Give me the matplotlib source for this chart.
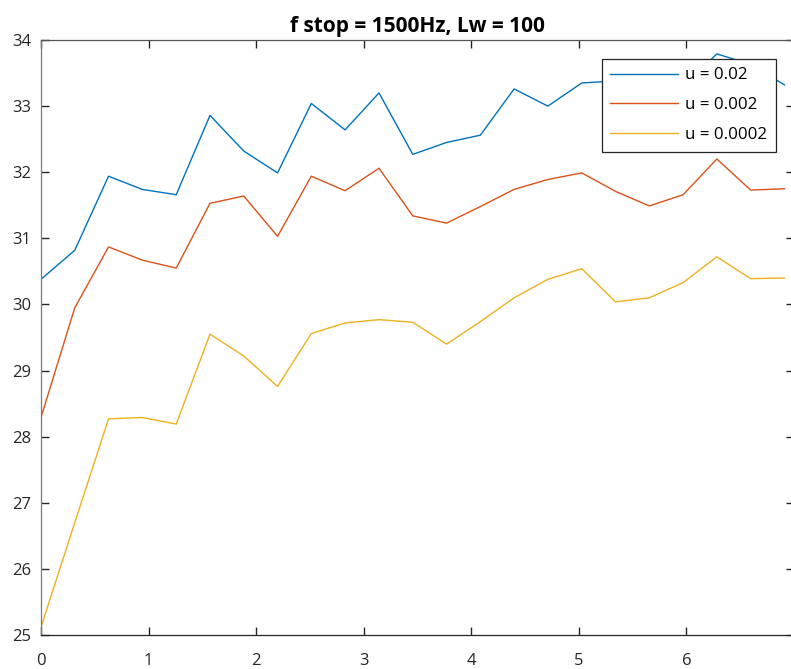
import matplotlib.pyplot as plt

# sample positions (steps of pi/10)
x = [0.000, 0.314, 0.628, 0.942, 1.257, 1.571, 1.885, 2.199, 2.513, 2.827,
     3.142, 3.456, 3.770, 4.084, 4.398, 4.712, 5.027, 5.341, 5.655, 5.969,
     6.283, 6.597, 6.912]

u_002 = [30.38, 30.82, 31.94, 31.74, 31.66, 32.86, 32.32, 31.99, 33.04, 32.64,
         33.20, 32.27, 32.45, 32.56, 33.26, 33.00, 33.35, 33.38, 33.15, 33.30,
         33.79, 33.63, 33.32]
u_0002 = [28.29, 29.95, 30.87, 30.67, 30.55, 31.53, 31.64, 31.03, 31.94, 31.72,
          32.06, 31.34, 31.23, 31.48, 31.74, 31.89, 31.99, 31.71, 31.49, 31.66,
          32.20, 31.73, 31.75]
u_00002 = [25.12, 26.70, 28.27, 28.29, 28.19, 29.55, 29.22, 28.76, 29.56, 29.72,
           29.77, 29.73, 29.40, 29.74, 30.10, 30.38, 30.54, 30.04, 30.10, 30.33,
           30.72, 30.39, 30.40]

labels = ["u = 0.02", "u = 0.002", "u = 0.0002"]
colors = ["#0072BD", "#D95319", "#EDB120"]
xticks = [0, 1, 2, 3, 4, 5, 6, 7]
xticklabels = ["0", "1", "2", "3", "4", "5", "6", ""]

plt.rcParams["font.family"] = ["Open Sans", "DejaVu Sans"]

fig = plt.figure(figsize=(7.91, 6.69), dpi=100)
ax = fig.add_axes([41 / 791, 34 / 669, 753 / 791, 595 / 669])

for y, lab, c in zip([u_002, u_0002, u_00002], labels, colors):
    ax.plot(x, y, color=c, linewidth=1.0, label=lab)

ax.set_xlim(0, 7)
ax.set_ylim(25, 34)
ax.set_xticks(xticks)
ax.set_xticklabels(xticklabels)
ax.set_yticks(range(25, 35))

ax.tick_params(direction="in", length=6, width=1.0, color="#262626",
               labelsize=12, top=True, right=True, labelcolor="#262626")
ax.tick_params(axis="x", pad=13)
ax.tick_params(axis="y", pad=7)
for side, sp in ax.spines.items():
    sp.set_color("#262626")
    sp.set_linewidth(0.9)
ax.spines["left"].set_color("#7a7a7a")
ax.spines["top"].set_color("#555555")

ax.set_title("f stop = 1500Hz, Lw = 100", fontsize=15, fontweight="bold",
             pad=6)

leg = ax.legend(loc="upper left", bbox_to_anchor=(602 / 791, 1 - 59 / 669),
                bbox_transform=fig.transFigure, fontsize=12.2, frameon=True,
                fancybox=False, framealpha=1, edgecolor="#262626",
                handlelength=4.0, handletextpad=0.4, labelspacing=0.82,
                borderpad=0.5, borderaxespad=0)
leg.get_frame().set_linewidth(0.9)

fig.savefig("out.png", dpi=100)
